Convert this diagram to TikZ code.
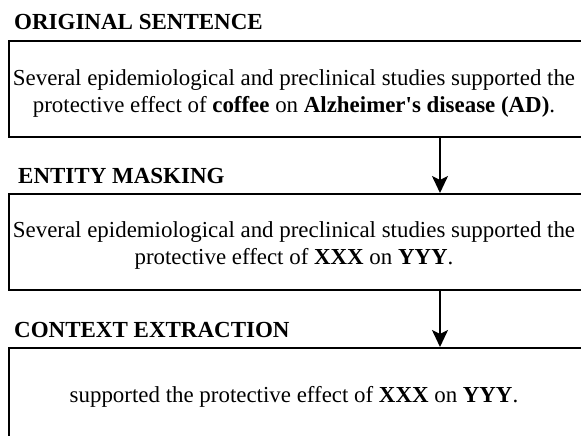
\documentclass[tikz,border=0pt]{standalone}
\usepackage{fontspec}
\setmainfont{Liberation Serif}
\usetikzlibrary{arrows.meta,calc}
\newcommand{\straightq}{{\addfontfeatures{Ligatures=TeXOff}'}}
\begin{document}
\begin{tikzpicture}[x=1pt,y=-1pt,
  box/.style={draw=black,line width=1.8pt,rectangle,inner sep=0pt,
    minimum width=578pt,anchor=north west},
  txt/.style={align=center,inner sep=0pt,font=\fontsize{22.9pt}{27pt}\selectfont},
  ttl/.style={anchor=base west,inner sep=0pt,font=\fontsize{23pt}{27pt}\selectfont\bfseries},
  arr/.style={line width=1.8pt,-{Stealth[length=17pt,width=16pt,inset=4pt]}}]
\useasboundingbox (0,0) rectangle (581,436);
\clip (0,0) rectangle (581,436);
\fill[white] (0,0) rectangle (581,436);
\node[ttl] (t1) at (14,30) {ORIGINAL SENTENCE};
\node[box,minimum height=96pt] (b1) at (8,40) {};
\node[txt] (x1) at (294,93) {Several epidemiological and preclinical studies supported the\\protective effect of \textbf{coffee} on \textbf{Alzheimer\straightq s disease (AD)}.};
\node[ttl] (t2) at (18,183) {ENTITY MASKING};
\node[box,minimum height=96pt] (b2) at (8,193) {};
\node[txt] (x2) at (294,245) {Several epidemiological and preclinical studies supported the\\protective effect of \textbf{XXX} on \textbf{YYY}.};
\node[ttl] (t3) at (14,337) {CONTEXT EXTRACTION};
\node[box,minimum height=112pt] (b3) at (8,347) {};
\node[txt,anchor=base] (x3) at (294,402) {supported the protective effect of \textbf{XXX} on \textbf{YYY}.};
\coordinate (ax) at (440,0);
\draw[arr] (ax |- b1.south) -- (ax |- b2.north);
\draw[arr] (ax |- b2.south) -- (ax |- b3.north);
\end{tikzpicture}
\end{document}
